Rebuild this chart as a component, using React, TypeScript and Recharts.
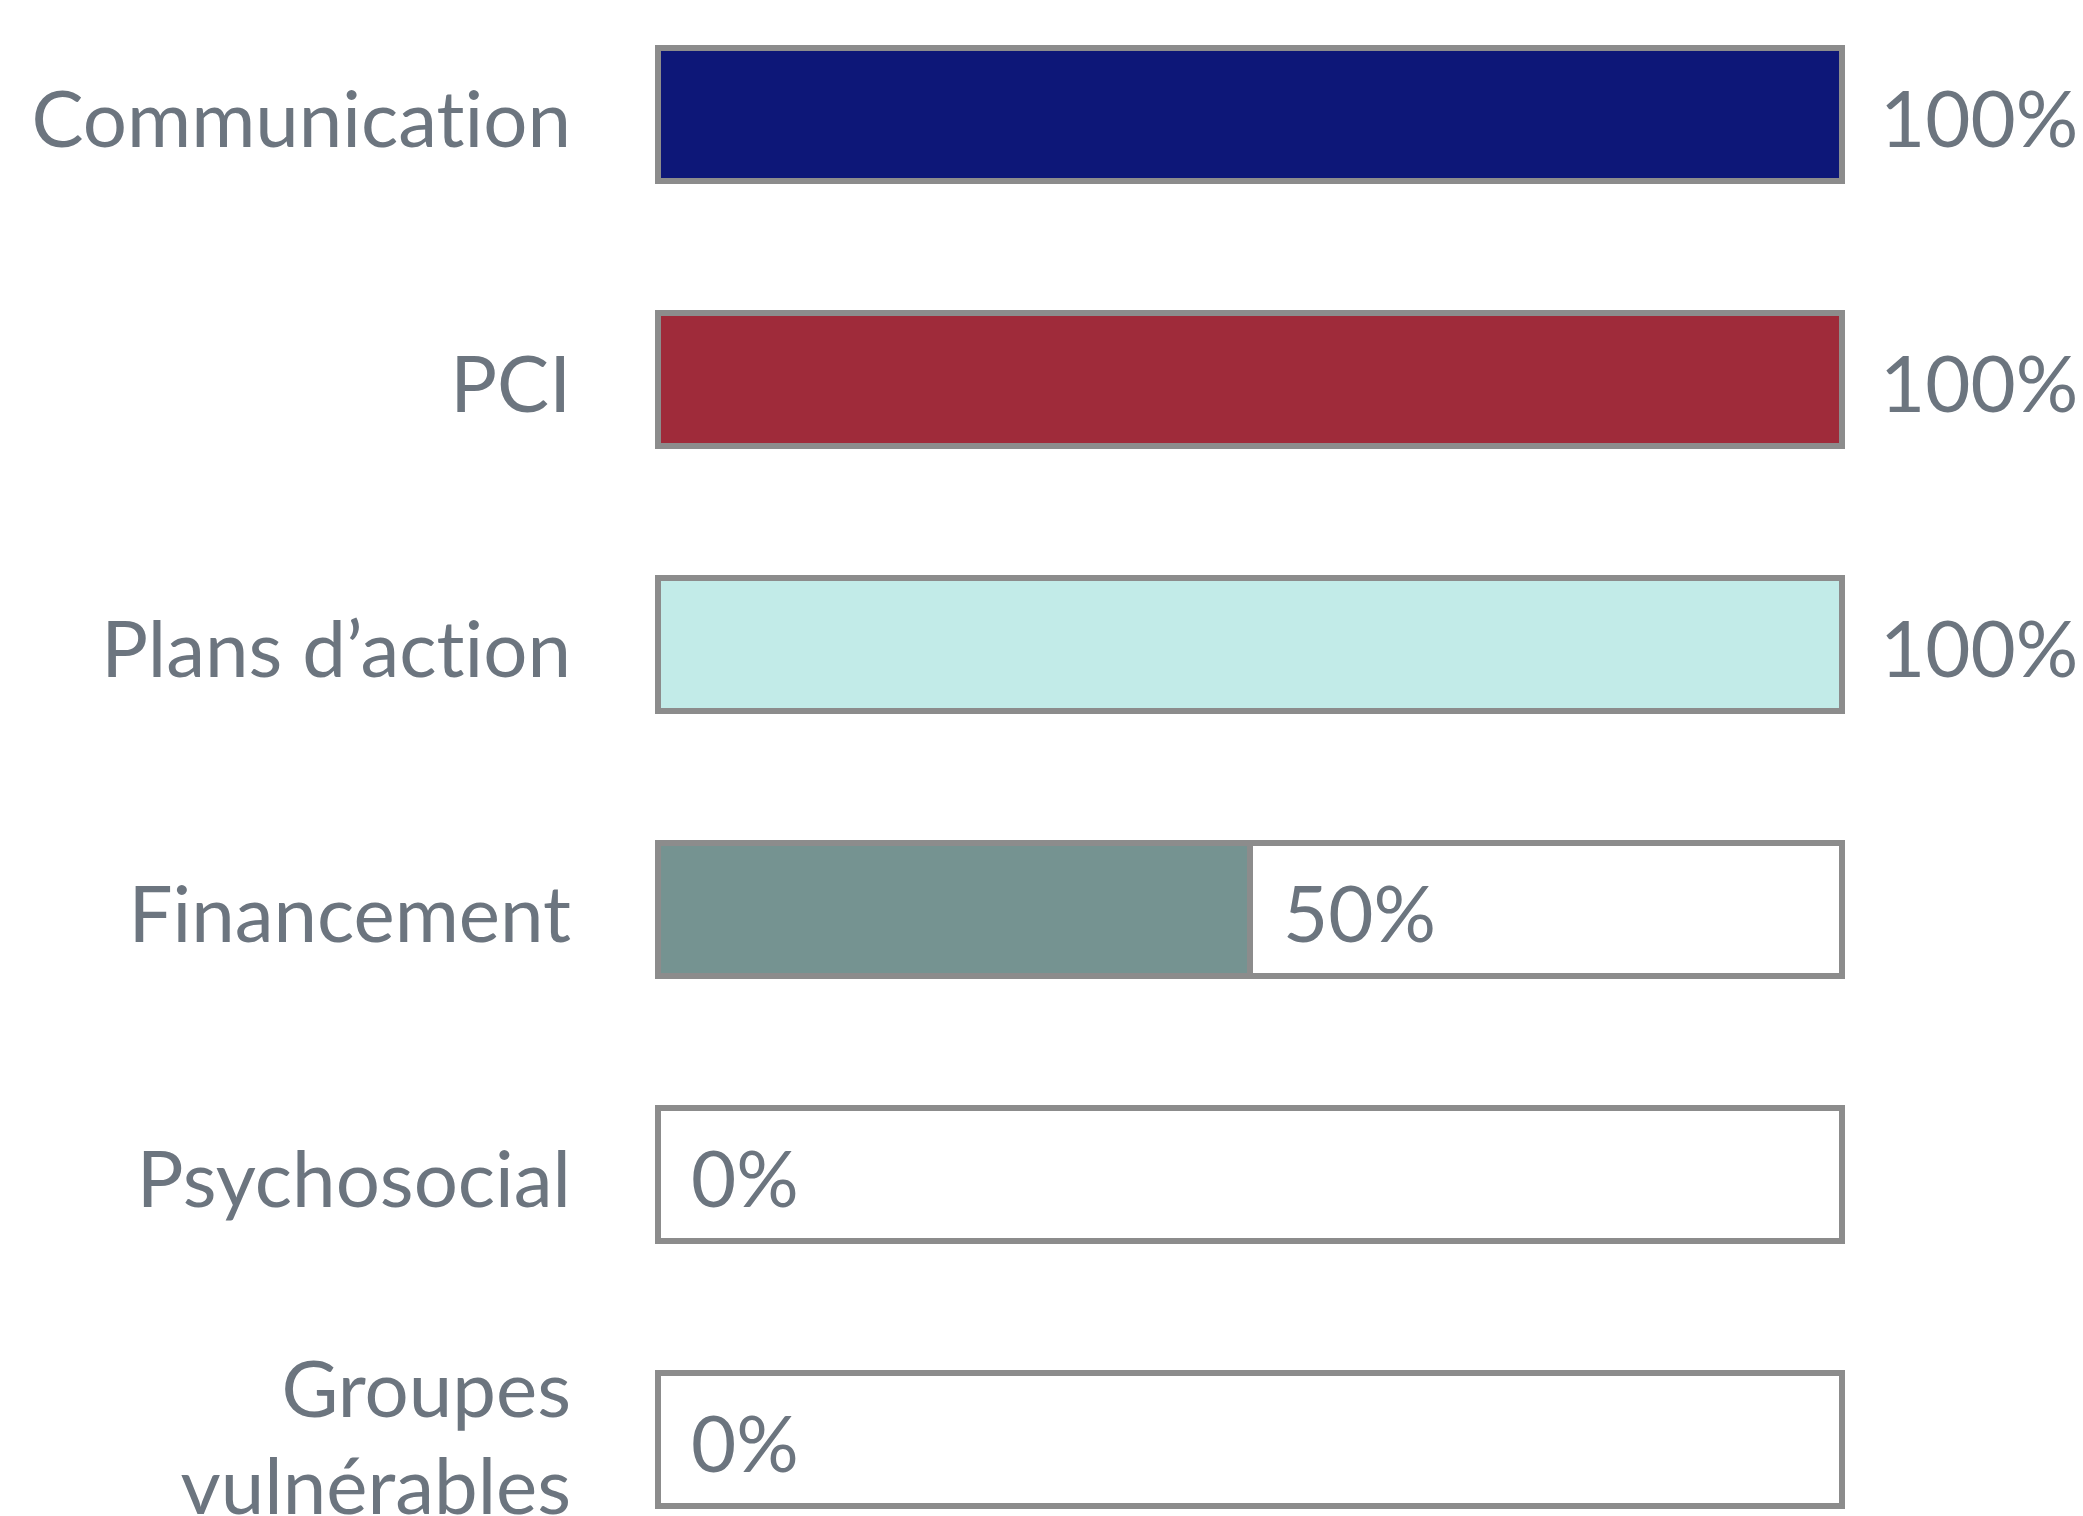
import { BarChart, Bar, XAxis, YAxis, Cell, LabelList } from "recharts";

const CATEGORIES = [
  "Communication",
  "PCI",
  "Plans d’action",
  "Financement",
  "Psychosocial",
  "Groupes\nvulnérables",
];
const VALUES = [100, 100, 100, 50, 0, 0];
const COLORS = ["#0d1778", "#9f2b3a", "#c2ebe8", "#759391", "#ffffff", "#ffffff"];
const MAX = 100;

const TEXT = "#6c757f";
const BORDER = "#8c8c8c";
const FONT = "Lato, 'Open Sans', sans-serif";
const FONT_SIZE = 78;

// the white part of each track is the rest up to 100 %
const data = CATEGORIES.map((name, i) => ({ name, value: VALUES[i], rest: MAX - VALUES[i] }));

// category labels, right aligned; "\n" splits a label into lines
function CategoryTick({ x, y, payload }: any) {
  const lines = String(payload.value).split("\n");
  return (
    <text
      x={x}
      y={y}
      textAnchor="end"
      fill={TEXT}
      fontSize={FONT_SIZE}
      fontFamily={FONT}
      style={{ fontVariantLigatures: "none" }}
    >
      {lines.map((l, i) => (
        <tspan key={i} x={x} y={y + 32 - (lines.length - 1) * 55 + i * 97}>
          {l}
        </tspan>
      ))}
    </text>
  );
}

function label(x: number, y: number, text: string) {
  return (
    <text x={x} y={y} textAnchor="start" fill={TEXT} fontSize={FONT_SIZE} fontFamily={FONT}>
      {text}
    </text>
  );
}

// value label after the coloured part (skipped when the value is 0)
function ValueLabel({ x, y, width, height, value }: any) {
  const v = Number(value);
  if (!v) return null;
  const gap = v >= MAX ? 38 : 33;
  return label(x + width + gap, y + height / 2 + 32, `${v}%`);
}

// "0%" goes at the start of an empty track (rest == 100)
function ZeroLabel({ x, y, height, value }: any) {
  if (Number(value) !== MAX) return null;
  return label(x + 33, y + height / 2 + 32, "0%");
}

export default function App() {
  return (
    <div style={{ position: "relative", width: 2083, height: 1516, overflow: "hidden", background: "#fff" }}>
      <style>{"body{margin:0}"}</style>
      <div style={{ position: "absolute", top: -18, left: 0 }}>
        <BarChart
          width={2083}
          height={1590}
          layout="vertical"
          data={data}
          barSize={133}
          margin={{ top: 0, right: 241, bottom: 0, left: 0 }}
        >
          <XAxis type="number" domain={[0, MAX]} hide />
          <YAxis
            type="category"
            dataKey="name"
            width={658}
            axisLine={false}
            tickLine={false}
            tickSize={0}
            tickMargin={87}
            tick={<CategoryTick />}
            interval={0}
          />
          <Bar dataKey="value" stackId="a" isAnimationActive={false} stroke={BORDER} strokeWidth={6}>
            {data.map((_, i) => (
              <Cell key={i} fill={COLORS[i]} />
            ))}
            <LabelList dataKey="value" content={<ValueLabel />} />
          </Bar>
          <Bar dataKey="rest" stackId="a" isAnimationActive={false} fill="#ffffff" stroke={BORDER} strokeWidth={6}>
            <LabelList dataKey="rest" content={<ZeroLabel />} />
          </Bar>
        </BarChart>
      </div>
    </div>
  );
}
